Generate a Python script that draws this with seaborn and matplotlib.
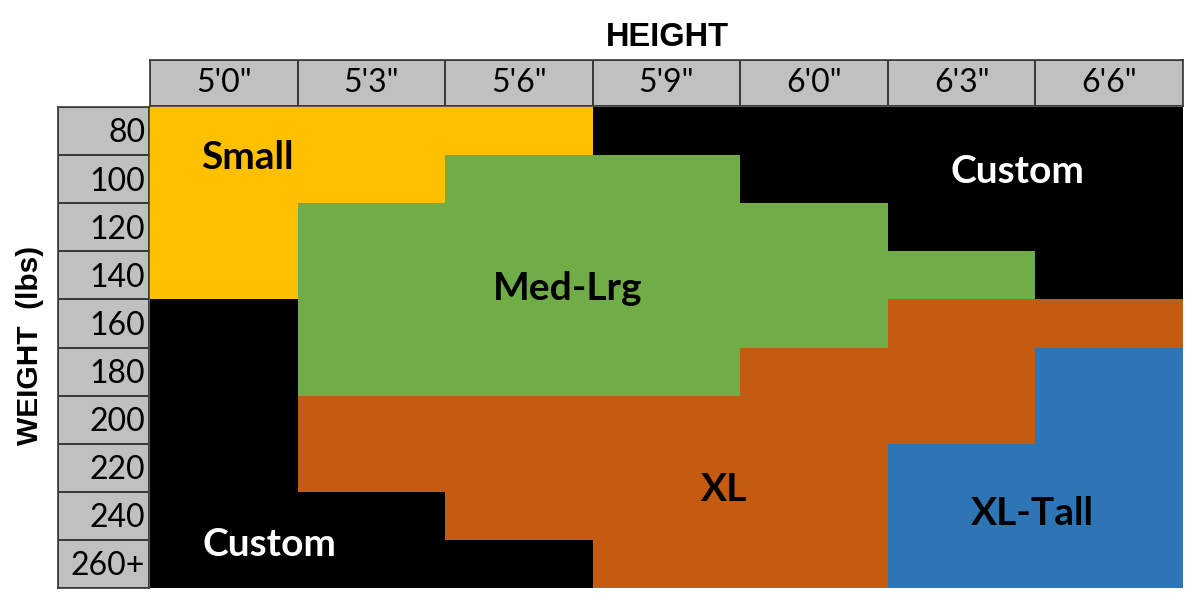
import numpy as np
import pandas as pd
import matplotlib
matplotlib.use("Agg")
import matplotlib.pyplot as plt
from matplotlib.colors import ListedColormap
import seaborn as sns

# ==========================================
# Data
# ==========================================

heights = ["5'0\"", "5'3\"", "5'6\"", "5'9\"", "6'0\"", "6'3\"", "6'6\""]
weights = ["80", "100", "120", "140", "160", "180", "200", "220", "240", "260+"]

sizes = ["Custom", "Small", "Med-Lrg", "XL", "XL-Tall"]
size_colors = ["#000000", "#FFC000", "#70AD47", "#C55A11", "#2E75B6"]

# size per cell, one row per weight (C=Custom S=Small M=Med-Lrg X=XL T=XL-Tall)
grid_rows = [
    "SSSCCCC",
    "SSMMCCC",
    "SMMMMCC",
    "SMMMMMC",
    "CMMMMXX",
    "CMMMXXT",
    "CXXXXXT",
    "CXXXXTT",
    "CCXXXTT",
    "CCCXXTT",
]
code = {"C": 0, "S": 1, "M": 2, "X": 3, "T": 4}

# region labels: text, column pos, row pos, colour
labels = [
    ("Small", 0.66, 1.06, "black"),
    ("Custom", 5.88, 1.35, "white"),
    ("Med-Lrg", 2.83, 3.78, "black"),
    ("XL", 3.89, 7.96, "black"),
    ("XL-Tall", 5.98, 8.46, "black"),
    ("Custom", 0.81, 9.09, "white"),
]

grid = pd.DataFrame([[code[c] for c in r] for r in grid_rows],
                    index=weights, columns=heights)

# ==========================================
# Figure
# ==========================================

sns.set_theme(style="white")
plt.rcParams["font.family"] = ["Lato", "DejaVu Sans"]
plt.rcParams["text.color"] = "black"

fig = plt.figure(figsize=(12, 6.05), dpi=100)
W, H = 1200, 605

def box(x0, y0, x1, y1):
    return [x0 / W, 1 - y1 / H, (x1 - x0) / W, (y1 - y0) / H]

ax = fig.add_axes(box(150, 107, 1183, 588))
ax_top = fig.add_axes(box(150, 60, 1183, 106))
ax_left = fig.add_axes(box(58, 107, 149, 588))

sns.heatmap(grid, ax=ax, cmap=ListedColormap(size_colors), vmin=-0.5, vmax=4.5,
            cbar=False, xticklabels=False, yticklabels=False)
ax.set_xlabel("")
ax.set_ylabel("")

for text, cx, cy, col in labels:
    ax.text(cx, cy, text, ha="center", va="center", fontsize=28,
            fontweight="bold", color=col)

# header cells
grey = ListedColormap(["#C0C0C0"])
line_col = "#3a3a3a"
top = pd.DataFrame([np.zeros(len(heights))], columns=heights)
sns.heatmap(top, ax=ax_top, cmap=grey, cbar=False, linewidths=1.2,
            linecolor=line_col, xticklabels=False, yticklabels=False,
            annot=np.array([heights]), fmt="",
            annot_kws={"fontsize": 23, "color": "black"})

left = pd.DataFrame(np.zeros((len(weights), 1)), index=weights)
sns.heatmap(left, ax=ax_left, cmap=grey, cbar=False, linewidths=1.2,
            linecolor=line_col, xticklabels=False, yticklabels=False)
for i, w in enumerate(weights):
    ax_left.text(0.96, i + 0.55, w, ha="right", va="center", fontsize=23,
                 color="black")

for a in (ax_top, ax_left):
    a.set_xlabel("")
    a.set_ylabel("")
    for s in a.spines.values():
        s.set_visible(True)
        s.set_color(line_col)
        s.set_linewidth(1.2)

fig.text(667 / W, 1 - 38 / H, "HEIGHT", ha="center", va="center",
         fontsize=23.5, fontweight="bold", fontfamily="Liberation Sans",
         color="black")
fig.text(30 / W, 1 - 345 / H, "WEIGHT  (lbs)", ha="center", va="center",
         rotation=90, fontsize=21.5, fontweight="bold",
         fontfamily="Liberation Sans", color="black")

plt.savefig("out.png", dpi=100)
plt.close()
